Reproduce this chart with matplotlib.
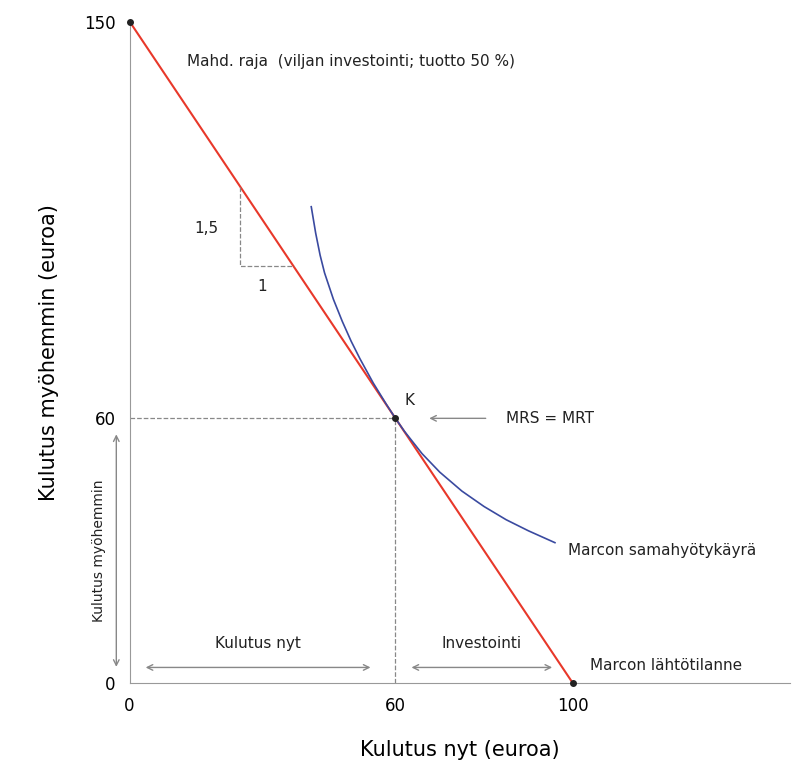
import matplotlib
matplotlib.use("Agg")
import matplotlib.pyplot as plt

frontier_x = [0, 100]
frontier_y = [150, 0]
curve_x = [41, 42, 43, 44, 46, 48, 50, 52, 55, 58, 60, 62, 66, 70, 75, 80, 85, 90, 96]
curve_y = [108, 102, 97, 93, 87, 82, 77.5, 73.5, 68, 63.1, 60, 57.1, 52, 47.8, 43.5, 40, 37, 34.5, 31.8]
point_x, point_y = 60, 60
xticks = [0, 60, 100]
yticks = [0, 60, 150]

fig = plt.figure(figsize=(8.1, 7.69), dpi=100)
ax = fig.add_axes([0.16, 0.112, 0.815, 0.86])
ax.set_xlim(0, 149)
ax.set_ylim(0, 150)
for s in ["top", "right"]:
    ax.spines[s].set_visible(False)
for s in ["left", "bottom"]:
    ax.spines[s].set_color("#999999")
ax.set_xticks(xticks)
ax.set_yticks(yticks)
ax.tick_params(length=0, labelsize=12, pad=10)
ax.set_xlabel("Kulutus nyt (euroa)", fontsize=15, labelpad=18)
ax.set_ylabel("Kulutus myöhemmin (euroa)", fontsize=15, labelpad=18)

ax.plot(frontier_x, frontier_y, color="#e8382a", lw=1.5, clip_on=False)
ax.plot(curve_x, curve_y, color="#3a4aa0", lw=1.2, solid_joinstyle="round")
ax.plot([point_x, point_x], [0, point_y], ls="--", color="#888888", lw=0.9)
ax.plot([0, point_x], [point_y, point_y], ls="--", color="#888888", lw=0.9)
ax.plot([25, 25, 37], [112.5, 94.5, 94.5], ls="--", color="#888888", lw=0.9)
ax.scatter([0, point_x, 100], [150, point_y, 0], color="#222222", s=16, zorder=5, clip_on=False)

ap = dict(arrowstyle="<->", color="#888888", lw=1)
ax.annotate("", xy=(3, 3.5), xytext=(55, 3.5), arrowprops=ap)
ax.annotate("", xy=(63, 3.5), xytext=(96, 3.5), arrowprops=ap)
ax.annotate("", xy=(-3, 3), xytext=(-3, 57), arrowprops=ap, annotation_clip=False)
ax.annotate("", xy=(67, 60), xytext=(81, 60), arrowprops=dict(arrowstyle="->", color="#888888", lw=1))

tk = dict(fontsize=11, color="#222222")
ax.text(13, 140, "Mahd. raja  (viljan investointi; tuotto 50 %)", **tk)
ax.text(20, 103, "1,5", ha="right", va="center", **tk)
ax.text(30, 90, "1", ha="center", va="center", **tk)
ax.text(62, 63, "K", **tk)
ax.text(85, 60, "MRS = MRT", va="center", **tk)
ax.text(99, 30, "Marcon samahyötykäyrä", va="center", **tk)
ax.text(104, 4, "Marcon lähtötilanne", va="center", **tk)
ax.text(29, 8, "Kulutus nyt", ha="center", **tk)
ax.text(79.5, 8, "Investointi", ha="center", **tk)
ax.text(-7, 30, "Kulutus myöhemmin", rotation=90, ha="center", va="center", fontsize=10, color="#222222")

fig.savefig("out.png", dpi=100)
